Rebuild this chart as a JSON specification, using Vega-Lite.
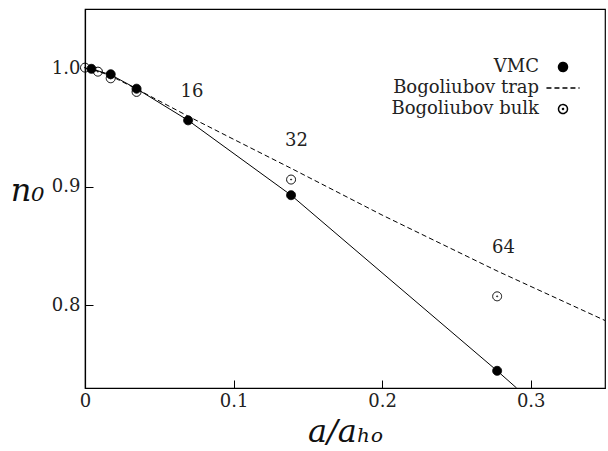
{
  "$schema": "https://vega.github.io/schema/vega-lite/v6.json",
  "width": 520,
  "height": 379,
  "autosize": {"type": "none"},
  "padding": {"left": 85, "top": 9, "right": 3, "bottom": 63},
  "config": {
    "font": "DejaVu Serif",
    "view": {"stroke": "black", "strokeWidth": 1.2},
    "axis": {
      "grid": false,
      "domainColor": "black",
      "domainWidth": 1.2,
      "tickColor": "black",
      "tickWidth": 1,
      "tickSize": -8,
      "labelColor": "#222",
      "labelFont": "DejaVu Serif",
      "labelFontSize": 18,
      "labelFlush": false,
      "labelOverlap": false,
      "titleFont": "DejaVu Serif",
      "titleFontStyle": "italic",
      "titleFontWeight": "normal",
      "titleFontSize": 32,
      "titleColor": "#111"
    },
    "legend": {"labelFont": "DejaVu Serif"}
  },
  "datasets": {
    "vmcline": [
      {"x": 0, "y": 1.0},
      {"x": 0.00433, "y": 0.9995},
      {"x": 0.00867, "y": 0.9978},
      {"x": 0.0173, "y": 0.9945},
      {"x": 0.0347, "y": 0.9827},
      {"x": 0.0694, "y": 0.956},
      {"x": 0.1387, "y": 0.8928},
      {"x": 0.2774, "y": 0.7445},
      {"x": 0.2905, "y": 0.73}
    ],
    "trapline": [
      {"x": 0, "y": 1.0},
      {"x": 0.0087, "y": 0.9975},
      {"x": 0.0173, "y": 0.9935},
      {"x": 0.0347, "y": 0.9825},
      {"x": 0.0694, "y": 0.9595},
      {"x": 0.1, "y": 0.94},
      {"x": 0.1387, "y": 0.9155},
      {"x": 0.2, "y": 0.876},
      {"x": 0.2774, "y": 0.8288},
      {"x": 0.35, "y": 0.787}
    ],
    "pts": [
      {"series": "Bogoliubov bulk", "x": 0, "y": 1.0005},
      {"series": "Bogoliubov bulk", "x": 0.0087, "y": 0.9971},
      {"series": "Bogoliubov bulk", "x": 0.0173, "y": 0.9915},
      {"series": "Bogoliubov bulk", "x": 0.0347, "y": 0.980},
      {"series": "Bogoliubov bulk", "x": 0.1387, "y": 0.906},
      {"series": "Bogoliubov bulk", "x": 0.2774, "y": 0.8074},
      {"series": "VMC", "x": 0.00433, "y": 0.9995},
      {"series": "VMC", "x": 0.0173, "y": 0.9949},
      {"series": "VMC", "x": 0.0347, "y": 0.9827},
      {"series": "VMC", "x": 0.0694, "y": 0.956},
      {"series": "VMC", "x": 0.1387, "y": 0.8928},
      {"series": "VMC", "x": 0.2774, "y": 0.7445}
    ],
    "labels": [
      {"x": 0.072, "y": 0.980, "label": "16"},
      {"x": 0.1423, "y": 0.9387, "label": "32"},
      {"x": 0.2817, "y": 0.8486, "label": "64"}
    ]
  },
  "encoding": {
    "x": {
      "field": "x",
      "type": "quantitative",
      "scale": {"domain": [0, 0.35], "nice": false, "zero": false},
      "axis": {
        "values": [0, 0.1, 0.2, 0.3],
        "format": "~g",
        "labelPadding": 12,
        "title": "a/aₕₒ",
        "titleX": 260,
        "titleY": 53,
        "titleBaseline": "alphabetic",
        "titleAlign": "center"
      }
    },
    "y": {
      "field": "y",
      "type": "quantitative",
      "scale": {"domain": [0.73, 1.05], "nice": false, "zero": false},
      "axis": {
        "values": [0.8, 0.9, 1.0],
        "format": ".1f",
        "labelPadding": 13,
        "title": "n₀",
        "titleAngle": 0,
        "titleX": -58,
        "titleY": 191,
        "titleAlign": "center",
        "titleBaseline": "alphabetic"
      }
    }
  },
  "layer": [
    {
      "data": {"name": "vmcline"},
      "mark": {"type": "line", "color": "black", "strokeWidth": 1, "clip": true}
    },
    {
      "data": {"name": "trapline"},
      "mark": {"type": "line", "color": "black", "strokeWidth": 1, "strokeDash": [5, 3], "clip": true}
    },
    {
      "data": {"name": "pts"},
      "mark": {"type": "point", "filled": false, "size": 80, "strokeWidth": 1, "opacity": 1},
      "encoding": {
        "shape": {
          "field": "series",
          "type": "nominal",
          "scale": {
            "domain": ["VMC", "Bogoliubov trap", "Bogoliubov bulk"],
            "range": ["circle", "M-3.7,0L3.7,0", "M-1,0A1,1 0 1,1 1,0A1,1 0 1,1 -1,0ZM-0.12,0A0.12,0.12 0 1,1 0.12,0A0.12,0.12 0 1,1 -0.12,0Z"]
          },
          "legend": {"title": null, "orient": "none", "legendX": 469, "legendY": 49, "labelFontSize": 18, "labelAlign": "right", "labelOffset": -33, "symbolSize": 80, "rowPadding": 3, "padding": 0, "labelColor": "#222", "labelFont": "DejaVu Serif"}
        },
        "stroke": {
          "field": "series",
          "type": "nominal",
          "scale": {
            "domain": ["VMC", "Bogoliubov trap", "Bogoliubov bulk"],
            "range": ["black", "black", "black"]
          },
          "legend": {"title": null, "orient": "none", "legendX": 469, "legendY": 49, "labelFontSize": 18, "labelAlign": "right", "labelOffset": -33, "symbolSize": 80, "rowPadding": 3, "padding": 0, "labelColor": "#222", "labelFont": "DejaVu Serif"}
        },
        "fill": {
          "field": "series",
          "type": "nominal",
          "scale": {
            "domain": ["VMC", "Bogoliubov trap", "Bogoliubov bulk"],
            "range": ["black", "transparent", "transparent"]
          },
          "legend": {"title": null, "orient": "none", "legendX": 469, "legendY": 49, "labelFontSize": 18, "labelAlign": "right", "labelOffset": -33, "symbolSize": 80, "rowPadding": 3, "padding": 0, "labelColor": "#222", "labelFont": "DejaVu Serif"}
        },
        "strokeDash": {
          "field": "series",
          "type": "nominal",
          "scale": {
            "domain": ["VMC", "Bogoliubov trap", "Bogoliubov bulk"],
            "range": [[1, 0], [5, 3], [1, 0]]
          },
          "legend": {"title": null, "orient": "none", "legendX": 469, "legendY": 49, "labelFontSize": 18, "labelAlign": "right", "labelOffset": -33, "symbolSize": 80, "rowPadding": 3, "padding": 0, "labelColor": "#222", "labelFont": "DejaVu Serif"}
        }
      }
    },
    {
      "data": {"name": "labels"},
      "mark": {"type": "text", "fontSize": 18, "color": "#222", "font": "DejaVu Serif", "align": "center", "baseline": "middle"},
      "encoding": {"text": {"field": "label"}}
    }
  ]
}
